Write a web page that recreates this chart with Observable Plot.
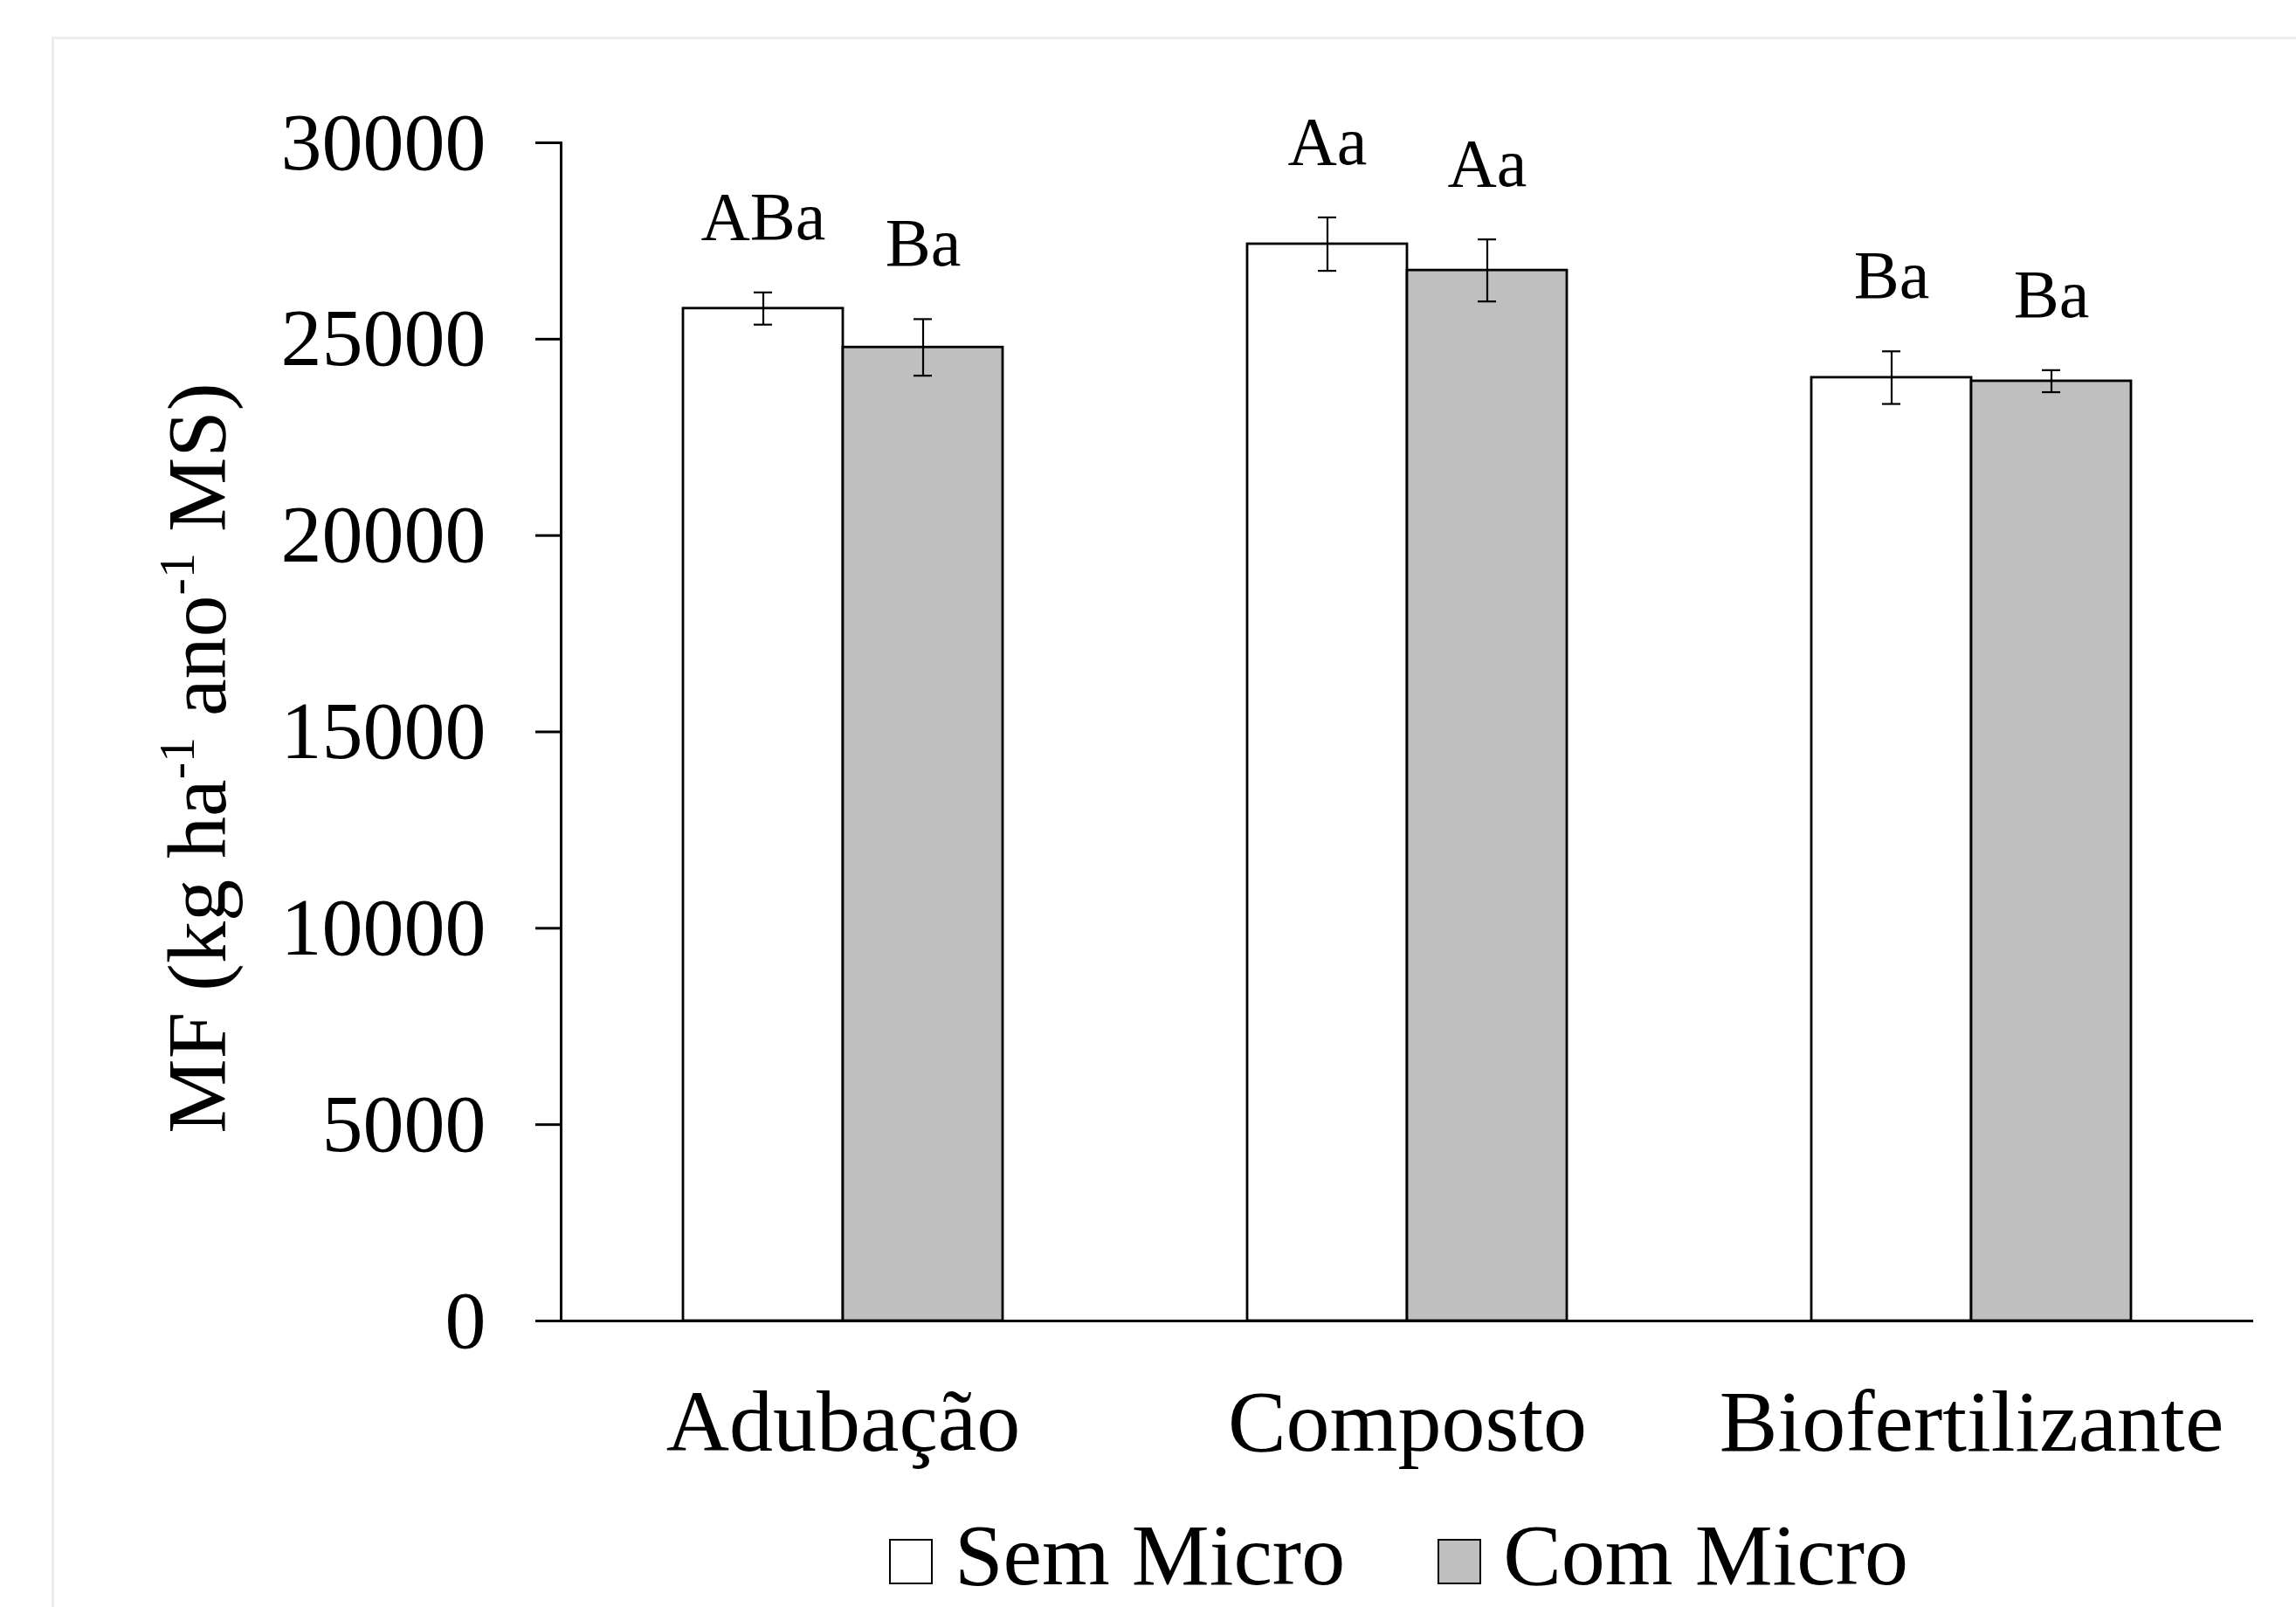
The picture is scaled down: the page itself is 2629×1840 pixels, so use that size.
<!DOCTYPE html>
<html>
<head>
<meta charset="utf-8">
<script src="https://cdn.jsdelivr.net/npm/d3@7"></script>
<script src="https://cdn.jsdelivr.net/npm/@observablehq/plot@0.6"></script>
<style>
  body { margin: 0; background: #fff; }
  #wrap { position: relative; width: 2629px; height: 1840px; overflow: hidden; font-family: "Liberation Serif", serif; }
  #border { position: absolute; left: 59px; top: 42px; width: 2700px; height: 1900px;
            border-top: 3px solid #ececec; border-left: 3px solid #ececec; }
  #chart { position: relative; }
  #chart svg { display: block; }
  #legend { position: relative; height: 108px; padding-top: 11px; padding-left: 1018px;
            font-size: 100px; line-height: 100px; white-space: nowrap; color: #000; }
  .key { display: inline-block; width: 50px; height: 52px; border: 2px solid #000; box-sizing: border-box;
         vertical-align: baseline; margin-right: 25px; }
  .lab { margin-right: 106px; }
</style>
</head>
<body>
<div id="wrap">
  <div id="border"></div>
  <div id="chart"></div>
  <div id="legend"></div>
</div>
<script>
// ---- data ----
const categories = ["Adubação", "Composto", "Biofertilizante"];
const series = ["Sem Micro", "Com Micro"];
const semMicro = [25780, 27420, 24020];
const comMicro = [24790, 26750, 23930];
const semErr = [410, 680, 670];
const comErr = [720, 790, 280];
const semLetters = ["ABa", "Aa", "Ba"];
const comLetters = ["Ba", "Aa", "Ba"];
const yTicks = [0, 5000, 10000, 15000, 20000, 25000, 30000];
const yLabelParts = [["MF (kg ha", false], ["-1", true], [" ano", false], ["-1", true], [" MS)", false]];
const seriesColors = ["#ffffff", "#bfbfbf"];

const rows = [];
categories.forEach((c, i) => {
  rows.push({cat: c, series: series[0], value: semMicro[i], err: semErr[i], letter: semLetters[i]});
  rows.push({cat: c, series: series[1], value: comMicro[i], err: comErr[i], letter: comLetters[i]});
});
rows.forEach(d => { d.lo = d.value - d.err; d.hi = d.value + d.err; });

const yLabelPlain = yLabelParts.map(p => p[0]).join("");

const chart = Plot.plot({
  width: 2629,
  height: 1720,
  marginLeft: 641,
  marginRight: 48,
  marginTop: 163,
  marginBottom: 208,
  style: {fontFamily: "Liberation Serif", background: "none", color: "#000", overflow: "visible"},
  fx: {domain: categories, padding: 0, label: null},
  x: {domain: series, paddingInner: 0, paddingOuter: 0.757, axis: null},
  y: {domain: [0, 30000], axis: null},
  color: {domain: series, range: seriesColors},
  marks: [
    Plot.barY(rows, {fx: "cat", x: "series", y: "value", fill: "series", stroke: "#000", strokeWidth: 2.8}),
    Plot.ruleX(rows, {fx: "cat", x: "series", y1: "lo", y2: "hi", stroke: "#000", strokeWidth: 2.2}),
    Plot.tickY(rows, {fx: "cat", x: "series", y: "lo", stroke: "#000", strokeWidth: 2.2, insetLeft: 81, insetRight: 81}),
    Plot.tickY(rows, {fx: "cat", x: "series", y: "hi", stroke: "#000", strokeWidth: 2.2, insetLeft: 81, insetRight: 81}),
    Plot.text(rows, {fx: "cat", x: "series", y: "hi", text: "letter", fontSize: 78, dy: -86, fill: "#000"}),
    Plot.ruleY([0], {stroke: "#000", strokeWidth: 3}),
    Plot.frame({anchor: "left", facetAnchor: "left", stroke: "#000", strokeWidth: 3}),
    Plot.axisY({ticks: yTicks, tickSize: 29, tickPadding: 57, fontSize: 94, strokeWidth: 3,
                tickFormat: d => String(d), label: null}),
    Plot.axisFx({anchor: "bottom", tickSize: 0, tickPadding: 77, fontSize: 100, label: null}),
    Plot.text([yLabelPlain], {frameAnchor: "left", facetAnchor: "left", dx: -415, dy: 30, rotate: -90,
                              fontSize: 96, textAnchor: "middle", fill: "#000"})
  ]
});
document.getElementById("chart").appendChild(chart);

// rich text (superscripts) for the y-axis title
d3.select(chart).selectAll("text").filter(function() { return this.textContent === yLabelPlain; })
  .each(function() {
    const t = d3.select(this);
    t.text(null).style("white-space", "pre");
    let shifted = false;
    yLabelParts.forEach(([s, sup]) => {
      const ts = t.append("tspan").text(s);
      if (sup) { ts.attr("font-size", 58).attr("dy", -36); shifted = true; }
      else if (shifted) { ts.attr("dy", 36); shifted = false; }
    });
  });

// legend below the chart
const legend = d3.select("#legend");
series.forEach((s, i) => {
  legend.append("span").attr("class", "key").style("background", seriesColors[i]);
  legend.append("span").attr("class", "lab").text(s);
});
</script>
</body>
</html>
